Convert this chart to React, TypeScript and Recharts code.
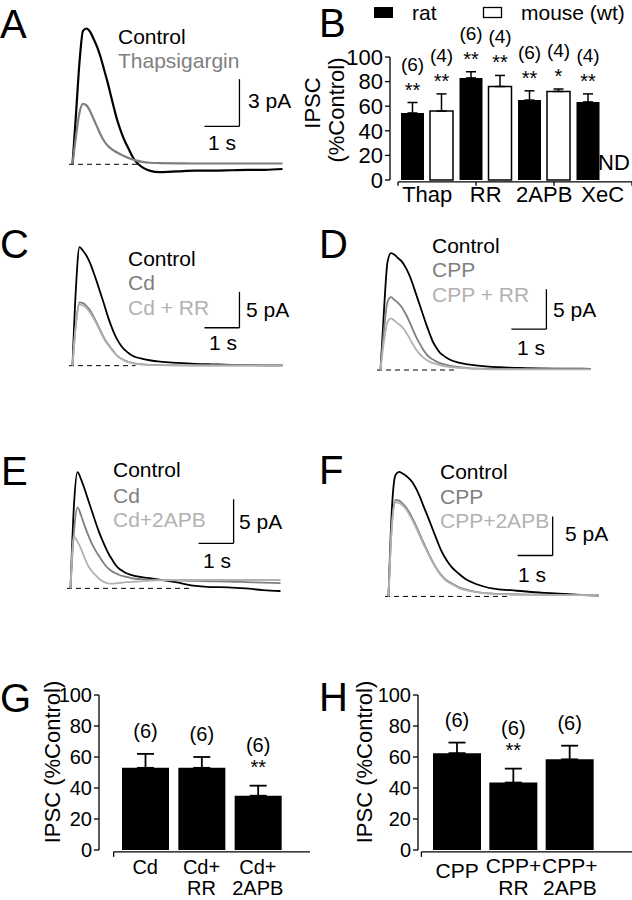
import React from "react";
import {
  Bar,
  BarChart,
  ErrorBar,
  LabelList,
  Line,
  LineChart,
  ReferenceLine,
  XAxis,
  YAxis,
} from "recharts";

const FONT = "'Liberation Sans', Arial, Helvetica, sans-serif";
const BLACK = "#000000";
const MID = "#7f7f7f";
const LIGHT = "#b2b2b2";

// sample times (s after stimulus), shared by every trace
const TIME = [0, 0.1, 0.2, 0.3, 0.4, 0.5, 0.6, 0.7, 0.8, 0.9, 1.0, 1.1, 1.2, 1.3, 1.4, 1.5, 1.6, 1.7, 1.8, 2.0, 2.2, 2.5, 3.0, 3.5, 4.0, 4.5, 5.0, 5.5, 6.0];

// IPSC traces, pA
const A_CONTROL = [0, 3.2, 6.5, 8.5, 8.65, 8.45, 8.0, 7.5, 6.85, 6.05, 5.25, 4.35, 3.45, 2.65, 2.0, 1.45, 1.0, 0.55, 0.2, -0.2, -0.4, -0.5, -0.45, -0.4, -0.4, -0.38, -0.35, -0.35, -0.3];
const A_THAPS = [0, 1.8, 3.3, 3.85, 3.75, 3.4, 2.9, 2.4, 1.9, 1.5, 1.2, 1.0, 0.85, 0.72, 0.6, 0.5, 0.4, 0.32, 0.25, 0.15, 0.1, 0.08, 0.06, 0.05, 0.05, 0.05, 0.05, 0.05, 0.05];

const C_CONTROL = [0, 11, 16.5, 16.0, 15.3, 14.3, 13.0, 11.6, 10.1, 8.6, 7.0, 5.6, 4.4, 3.45, 2.7, 2.15, 1.75, 1.4, 1.2, 0.95, 0.75, 0.55, 0.38, 0.25, 0.18, 0.12, 0.08, 0.05, 0.03];
const C_CD = [0, 6.0, 8.8, 8.7, 8.3, 7.7, 6.85, 5.9, 4.85, 3.85, 3.1, 2.45, 1.8, 1.3, 0.95, 0.7, 0.5, 0.38, 0.28, 0.18, 0.12, 0.08, 0.05, 0.03, 0.03, 0.03, 0.03, 0.03, 0.03];
const C_CD_RR = [0, 5.8, 8.5, 8.4, 8.0, 7.4, 6.6, 5.7, 4.7, 3.75, 3.0, 2.35, 1.75, 1.28, 0.92, 0.68, 0.48, 0.36, 0.27, 0.17, 0.11, 0.07, 0.04, 0.02, 0.02, 0.02, 0.02, 0.02, 0.02];

const D_CONTROL = [0, 7.5, 13.5, 14.6, 14.4, 14.0, 13.6, 12.95, 12.1, 11.0, 9.7, 8.4, 7.1, 5.8, 4.6, 3.5, 2.75, 2.15, 1.8, 1.25, 0.95, 0.7, 0.45, 0.33, 0.26, 0.2, 0.18, 0.16, 0.15];
const D_CPP = [0, 5.0, 8.5, 9.1, 8.75, 8.4, 7.9, 7.15, 6.3, 5.3, 4.3, 3.45, 2.7, 2.05, 1.6, 1.3, 1.05, 0.85, 0.72, 0.52, 0.38, 0.24, 0.15, 0.12, 0.1, 0.1, 0.1, 0.1, 0.1];
const D_CPP_RR = [0, 3.6, 6.0, 6.45, 6.15, 5.8, 5.45, 4.9, 4.2, 3.4, 2.7, 2.1, 1.65, 1.32, 1.05, 0.85, 0.72, 0.6, 0.5, 0.36, 0.28, 0.2, 0.12, 0.08, 0.08, 0.08, 0.08, 0.08, 0.08];

const E_CONTROL = [0, 9.5, 13.2, 12.4, 11.3, 10.1, 8.9, 7.7, 6.55, 5.55, 4.65, 3.85, 3.2, 2.6, 2.2, 1.95, 1.72, 1.57, 1.45, 1.3, 1.18, 1.02, 0.7, 0.3, 0.15, 0.12, 0.0, -0.2, -0.3];
const E_CD = [0, 6.5, 9.2, 8.3, 7.15, 6.1, 5.15, 4.4, 3.75, 3.15, 2.6, 2.2, 1.9, 1.7, 1.52, 1.4, 1.3, 1.2, 1.12, 1.05, 1.0, 0.96, 0.92, 0.85, 0.8, 0.78, 0.72, 0.65, 0.6];
const E_CD_2APB = [0, 5.9, 5.3, 4.5, 3.5, 2.6, 2.0, 1.55, 1.15, 0.85, 0.65, 0.55, 0.55, 0.58, 0.62, 0.66, 0.7, 0.72, 0.75, 0.8, 0.85, 0.9, 0.95, 0.95, 0.95, 0.95, 0.95, 0.95, 0.95];

const F_CONTROL = [0, 11.5, 15.6, 16.0, 15.8, 15.5, 15.1, 14.55, 13.75, 12.75, 11.6, 10.5, 9.35, 8.2, 7.05, 5.95, 5.1, 4.4, 3.8, 2.95, 2.25, 1.6, 1.0, 0.8, 0.6, 0.45, 0.32, 0.2, 0.12];
const F_CPP = [0, 9.5, 12.4, 12.3, 11.95, 11.45, 10.75, 9.9, 8.95, 7.9, 6.9, 5.95, 5.0, 4.15, 3.4, 2.8, 2.3, 1.95, 1.7, 1.2, 0.9, 0.6, 0.35, 0.28, 0.24, 0.2, 0.18, 0.16, 0.15];
const F_CPP_2APB = [0, 9.2, 12.1, 12.0, 11.7, 11.2, 10.5, 9.65, 8.7, 7.7, 6.7, 5.8, 4.9, 4.05, 3.3, 2.7, 2.2, 1.85, 1.6, 1.1, 0.8, 0.55, 0.32, 0.25, 0.22, 0.2, 0.18, 0.16, 0.15];

// panel B: IPSC (% control)
const B_GROUPS = ["Thap", "RR", "2APB", "XeC"];
const B_RAT = [54.5, 83, 65, 63.5];
const B_RAT_ERR = [8.5, 5, 7.5, 6.5];
const B_RAT_N = ["(6)", "(6)", "(6)", "(4)"];
const B_RAT_SIG = ["**", "**", "**", "**"];
const B_MOUSE = [56, 76, 72, null];
const B_MOUSE_ERR = [14, 9, 2, null];
const B_MOUSE_N = ["(4)", "(4)", "(4)", null];
const B_MOUSE_SIG = ["**", "**", "*", null];

// panel G
const G_GROUPS = ["Cd", "Cd+\nRR", "Cd+\n2APB"];
const G_VALUES = [53, 53, 35];
const G_ERR = [9, 7, 6.5];
const G_N = ["(6)", "(6)", "(6)"];
const G_SIG = [null, null, "**"];

// panel H
const H_GROUPS = ["CPP", "CPP+\nRR", "CPP+\n2APB"];
const H_VALUES = [62.5, 43.5, 58.5];
const H_ERR = [6.8, 9, 8.8];
const H_N = ["(6)", "(6)", "(6)"];
const H_SIG = [null, "**", null];

const PCT_TICKS = [0, 20, 40, 60, 80, 100];

type Trace = { key: string; values: number[]; color: string };
type TraceBox = {
  left: number;
  top: number;
  width: number;
  height: number;
  yDomain: [number, number];
  baseEnd: number;
  barT: number;
  barY: number;
  barPA: number;
};

function TracePanel({ box, traces, width = 1.8 }: { box: TraceBox; traces: Trace[]; width?: number }) {
  const data = TIME.map((t, i) => {
    const row: Record<string, number> = { t };
    traces.forEach((tr) => (row[tr.key] = tr.values[i]));
    return row;
  });
  return (
    <div style={{ position: "absolute", left: box.left, top: box.top }}>
      <LineChart width={box.width} height={box.height} data={data} margin={{ top: 0, right: 0, bottom: 0, left: 0 }}>
        <XAxis type="number" dataKey="t" domain={[-0.3, 6.7]} allowDataOverflow hide />
        <YAxis type="number" domain={box.yDomain} allowDataOverflow hide />
        <ReferenceLine
          segment={[{ x: -0.1, y: 0 }, { x: box.baseEnd, y: 0 }]}
          stroke={BLACK}
          strokeWidth={1}
          strokeDasharray="5 4"
          ifOverflow="visible"
        />
        {traces.map((tr) => (
          <Line
            key={tr.key}
            dataKey={tr.key}
            type="monotone"
            stroke={tr.color}
            strokeWidth={width}
            dot={false}
            isAnimationActive={false}
          />
        ))}
        <ReferenceLine
          segment={[{ x: box.barT, y: box.barY }, { x: box.barT, y: box.barY + box.barPA }]}
          stroke={BLACK}
          strokeWidth={1.3}
          ifOverflow="visible"
        />
        <ReferenceLine
          segment={[{ x: box.barT - 1, y: box.barY }, { x: box.barT, y: box.barY }]}
          stroke={BLACK}
          strokeWidth={1.3}
          ifOverflow="visible"
        />
      </LineChart>
    </div>
  );
}

type AnnoOpts = { sigGap: number; nGapSig: number; nGap: number; sigSize: number; nSize: number };

function annotate(nTexts: (string | null)[], sigs: (string | null)[], errs: (number | null)[], o: AnnoOpts) {
  return function Anno(props: any) {
    const { x, y, width, height, value, index } = props;
    if (value == null || index == null || nTexts[index] == null) return null;
    const perUnit = Number(height) / Number(value);
    const top = Number(y) - (errs[index] ?? 0) * perUnit;
    const cx = Number(x) + Number(width) / 2;
    const sig = sigs[index];
    return (
      <g fontFamily={FONT} fill={BLACK} textAnchor="middle">
        {sig && (
          <text x={cx} y={top - o.sigGap} fontSize={o.sigSize}>
            {sig}
          </text>
        )}
        <text x={cx} y={top - (sig ? o.nGapSig : o.nGap)} fontSize={o.nSize}>
          {nTexts[index]}
        </text>
      </g>
    );
  };
}

function groupTick(fontSize: number, singleDy: number, firstDy: number, lineGap: number) {
  return function Tick(p: any) {
    const lines = String(p.payload.value).split("\n");
    return (
      <text textAnchor="middle" fontFamily={FONT} fontSize={fontSize} fill={BLACK}>
        {lines.map((ln, i) => (
          <tspan key={i} x={p.x} y={p.y + (lines.length === 1 ? singleDy : firstDy + i * lineGap)}>
            {ln}
          </tspan>
        ))}
      </text>
    );
  };
}

const yAxisProps = (fontSize: number, width: number) => ({
  type: "number" as const,
  domain: [0, 100] as [number, number],
  ticks: PCT_TICKS,
  interval: 0 as const,
  width,
  tickSize: 5,
  tickMargin: 2,
  axisLine: { stroke: BLACK, strokeWidth: 1.3 },
  tickLine: { stroke: BLACK, strokeWidth: 1.3 },
  tick: { fill: BLACK, fontSize, fontFamily: FONT },
});

function PanelB() {
  const rows = B_GROUPS.map((g, i) => ({
    group: g,
    rat: B_RAT[i],
    ratErr: [0, B_RAT_ERR[i]],
    mouse: B_MOUSE[i],
    mouseErr: B_MOUSE_ERR[i] == null ? null : [0, B_MOUSE_ERR[i]],
  }));
  const pad = { left: 8, right: 0 };
  const opts = { sigGap: 6, nGapSig: 32, nGap: 16, sigSize: 20, nSize: 19 };
  return (
    <div style={{ position: "absolute", left: 320, top: 0 }}>
      <BarChart width={312} height={215} data={rows} margin={{ top: 57, right: 0, bottom: 5, left: 0 }} barGap={6} barCategoryGap={3}>
        <XAxis
          xAxisId="cat"
          dataKey="group"
          axisLine={false}
          tickLine={false}
          tickSize={0}
          tickMargin={0}
          height={30}
          interval={0}
          padding={pad}
          tick={groupTick(22, 22, 22, 25)}
        />
        <XAxis xAxisId="frame" type="number" domain={[0, 4]} allowDataOverflow hide padding={pad} />
        <YAxis {...yAxisProps(22, 70)} />
        <ReferenceLine
          xAxisId="frame"
          segment={[{ x: 0, y: -1.6 }, { x: 4, y: -1.6 }]}
          stroke={BLACK}
          strokeWidth={1.3}
          ifOverflow="visible"
        />
        {B_GROUPS.map((g, i) => (
          <ReferenceLine
            key={g}
            xAxisId="frame"
            segment={[{ x: i, y: -1.6 }, { x: i, y: -4.6 }]}
            stroke={BLACK}
            strokeWidth={1.3}
            ifOverflow="visible"
          />
        ))}
        <Bar xAxisId="cat" dataKey="rat" fill={BLACK} isAnimationActive={false}>
          <ErrorBar dataKey="ratErr" width={5} stroke={BLACK} strokeWidth={1.5} direction="y" />
          <LabelList dataKey="rat" content={annotate(B_RAT_N, B_RAT_SIG, B_RAT_ERR, opts)} />
        </Bar>
        <Bar xAxisId="cat" dataKey="mouse" fill="#ffffff" stroke={BLACK} strokeWidth={1.5} isAnimationActive={false}>
          <ErrorBar dataKey="mouseErr" width={5} stroke={BLACK} strokeWidth={1.5} direction="y" />
          <LabelList dataKey="mouse" content={annotate(B_MOUSE_N, B_MOUSE_SIG, B_MOUSE_ERR, opts)} />
        </Bar>
      </BarChart>
    </div>
  );
}

type SummaryProps = {
  left: number;
  width: number;
  groups: string[];
  values: number[];
  errs: number[];
  ns: string[];
  sigs: (string | null)[];
  yWidth: number;
  right: number;
  pad: { left: number; right: number };
  barSize: number;
  frame: [number, number];
  tick: (p: any) => React.ReactElement;
};

function SummaryPanel(p: SummaryProps) {
  const rows = p.groups.map((g, i) => ({ group: g, value: p.values[i], err: [0, p.errs[i]] }));
  const opts = { sigGap: 11.5, nGapSig: 34, nGap: 16, sigSize: 20, nSize: 20 };
  return (
    <div style={{ position: "absolute", left: p.left, top: 680 }}>
      <BarChart width={p.width} height={220} data={rows} margin={{ top: 15, right: p.right, bottom: 0, left: 0 }}>
        <XAxis
          xAxisId="cat"
          dataKey="group"
          axisLine={false}
          tickLine={false}
          tickSize={0}
          tickMargin={0}
          height={50}
          interval={0}
          padding={p.pad}
          tick={p.tick}
        />
        <XAxis xAxisId="frame" type="number" domain={[0, 3]} allowDataOverflow hide padding={p.pad} />
        <YAxis {...yAxisProps(20, p.yWidth)} />
        <ReferenceLine
          xAxisId="frame"
          segment={[{ x: p.frame[0], y: -1.2 }, { x: p.frame[1], y: -1.2 }]}
          stroke={BLACK}
          strokeWidth={1.3}
          ifOverflow="visible"
        />
        {p.frame.map((fx) => (
          <ReferenceLine
            key={fx}
            xAxisId="frame"
            segment={[{ x: fx, y: -1.2 }, { x: fx, y: -4.4 }]}
            stroke={BLACK}
            strokeWidth={1.3}
            ifOverflow="visible"
          />
        ))}
        <Bar xAxisId="cat" dataKey="value" fill={BLACK} barSize={p.barSize} isAnimationActive={false}>
          <ErrorBar dataKey="err" width={8.5} stroke={BLACK} strokeWidth={1.8} direction="y" />
          <LabelList dataKey="value" content={annotate(p.ns, p.sigs, p.errs, opts)} />
        </Bar>
      </BarChart>
    </div>
  );
}

function Txt({ x, y, size = 21, color = BLACK, children }: { x: number; y: number; size?: number; color?: string; children: React.ReactNode }) {
  return (
    <text x={x} y={y} fontSize={size} fill={color} fontFamily={FONT}>
      {children}
    </text>
  );
}

function VTxt({ cx, cy, size = 22, children }: { cx: number; cy: number; size?: number; children: React.ReactNode }) {
  return (
    <text
      x={cx}
      y={cy}
      fontSize={size}
      fill={BLACK}
      fontFamily={FONT}
      textAnchor="middle"
      dominantBaseline="central"
      transform={`rotate(-90 ${cx} ${cy})`}
    >
      {children}
    </text>
  );
}

const BOX_A: TraceBox = { left: 62, top: 23, width: 245, height: 157, yDomain: [-1, 9], baseEnd: 1.9, barT: 4.77, barY: 2.42, barPA: 3 };
const BOX_C: TraceBox = { left: 62, top: 240, width: 245, height: 140, yDomain: [-2, 17.5], baseEnd: 1.8, barT: 4.77, barY: 5.28, barPA: 5 };
const BOX_D: TraceBox = { left: 370, top: 246, width: 245, height: 140, yDomain: [-2, 15.5], baseEnd: 2.2, barT: 4.74, barY: 5.1, barPA: 5 };
const BOX_E: TraceBox = { left: 60, top: 465, width: 245, height: 141, yDomain: [-2, 14], baseEnd: 3.4, barT: 4.66, barY: 5.11, barPA: 5 };
const BOX_F: TraceBox = { left: 378, top: 468, width: 245, height: 144, yDomain: [-2, 16.5], baseEnd: 3.4, barT: 4.69, barY: 5.26, barPA: 5 };

export default function App() {
  return (
    <div
      style={{
        position: "absolute",
        left: 0,
        top: 0,
        width: 632,
        height: 900,
        background: "#ffffff",
        overflow: "hidden",
        fontFamily: FONT,
      }}
    >
      <TracePanel
        box={BOX_A}
        width={2.2}
        traces={[
          { key: "control", values: A_CONTROL, color: BLACK },
          { key: "thaps", values: A_THAPS, color: MID },
        ]}
      />
      <PanelB />
      <TracePanel
        box={BOX_C}
        traces={[
          { key: "control", values: C_CONTROL, color: BLACK },
          { key: "cd", values: C_CD, color: MID },
          { key: "cdrr", values: C_CD_RR, color: LIGHT },
        ]}
      />
      <TracePanel
        box={BOX_D}
        traces={[
          { key: "control", values: D_CONTROL, color: BLACK },
          { key: "cpp", values: D_CPP, color: MID },
          { key: "cpprr", values: D_CPP_RR, color: LIGHT },
        ]}
      />
      <TracePanel
        box={BOX_E}
        traces={[
          { key: "control", values: E_CONTROL, color: BLACK },
          { key: "cd", values: E_CD, color: MID },
          { key: "cd2apb", values: E_CD_2APB, color: LIGHT },
        ]}
      />
      <TracePanel
        box={BOX_F}
        traces={[
          { key: "control", values: F_CONTROL, color: BLACK },
          { key: "cpp", values: F_CPP, color: MID },
          { key: "cpp2apb", values: F_CPP_2APB, color: LIGHT },
        ]}
      />
      <SummaryPanel
        left={0}
        width={310}
        groups={G_GROUPS}
        values={G_VALUES}
        errs={G_ERR}
        ns={G_N}
        sigs={G_SIG}
        yWidth={99}
        right={17}
        pad={{ left: 18, right: 7 }}
        barSize={47}
        frame={[-0.04, 3.12]}
        tick={groupTick(20, 24, 24, 21)}
      />
      <SummaryPanel
        left={320}
        width={312}
        groups={H_GROUPS}
        values={H_VALUES}
        errs={H_ERR}
        ns={H_N}
        sigs={H_SIG}
        yWidth={98}
        right={30}
        pad={{ left: 11, right: 4 }}
        barSize={48}
        frame={[-0.09, 3.07]}
        tick={groupTick(21, 28, 23, 22)}
      />

      <svg width={632} height={900} style={{ position: "absolute", left: 0, top: 0, pointerEvents: "none" }}>
        {/* panel letters */}
        <Txt x={0} y={38} size={40}>A</Txt>
        <Txt x={319} y={37} size={40}>B</Txt>
        <Txt x={0} y={258} size={40}>C</Txt>
        <Txt x={319} y={258} size={40}>D</Txt>
        <Txt x={1} y={485} size={40}>E</Txt>
        <Txt x={319} y={484} size={40}>F</Txt>
        <Txt x={0} y={712} size={40}>G</Txt>
        <Txt x={319} y={711} size={40}>H</Txt>

        {/* A */}
        <Txt x={118} y={44}>Control</Txt>
        <Txt x={118} y={68} color={MID}>Thapsigargin</Txt>
        <Txt x={248} y={108}>3 pA</Txt>
        <Txt x={208} y={150}>1 s</Txt>

        {/* B */}
        <rect x={374} y={7} width={19} height={11} fill={BLACK} />
        <Txt x={412} y={20} size={21}>rat</Txt>
        <rect x={483.5} y={7.5} width={18} height={10} fill="#ffffff" stroke={BLACK} strokeWidth={1.3} />
        <Txt x={521} y={20} size={21}>mouse (wt)</Txt>
        <VTxt cx={312} cy={103}>IPSC</VTxt>
        <VTxt cx={336} cy={110}>(%Control)</VTxt>
        <Txt x={598} y={170} size={22}>ND</Txt>

        {/* C */}
        <Txt x={128} y={266}>Control</Txt>
        <Txt x={128} y={290} color={MID}>Cd</Txt>
        <Txt x={128} y={315} color={LIGHT}>Cd + RR</Txt>
        <Txt x={246} y={317}>5 pA</Txt>
        <Txt x={209} y={350}>1 s</Txt>

        {/* D */}
        <Txt x={432} y={253}>Control</Txt>
        <Txt x={432} y={277} color={MID}>CPP</Txt>
        <Txt x={432} y={302} color={LIGHT}>CPP + RR</Txt>
        <Txt x={553} y={317}>5 pA</Txt>
        <Txt x={517} y={355}>1 s</Txt>

        {/* E */}
        <Txt x={113} y={477}>Control</Txt>
        <Txt x={113} y={503} color={MID}>Cd</Txt>
        <Txt x={113} y={527} color={LIGHT}>Cd+2APB</Txt>
        <Txt x={239} y={529}>5 pA</Txt>
        <Txt x={203} y={568}>1 s</Txt>

        {/* F */}
        <Txt x={440} y={479}>Control</Txt>
        <Txt x={440} y={504} color={MID}>CPP</Txt>
        <Txt x={440} y={528} color={LIGHT}>CPP+2APB</Txt>
        <Txt x={565} y={541}>5 pA</Txt>
        <Txt x={518} y={582}>1 s</Txt>

        {/* G, H axis titles */}
        <VTxt cx={52} cy={762}>IPSC (%Control)</VTxt>
        <VTxt cx={364} cy={762}>IPSC (%Control)</VTxt>
      </svg>
    </div>
  );
}
